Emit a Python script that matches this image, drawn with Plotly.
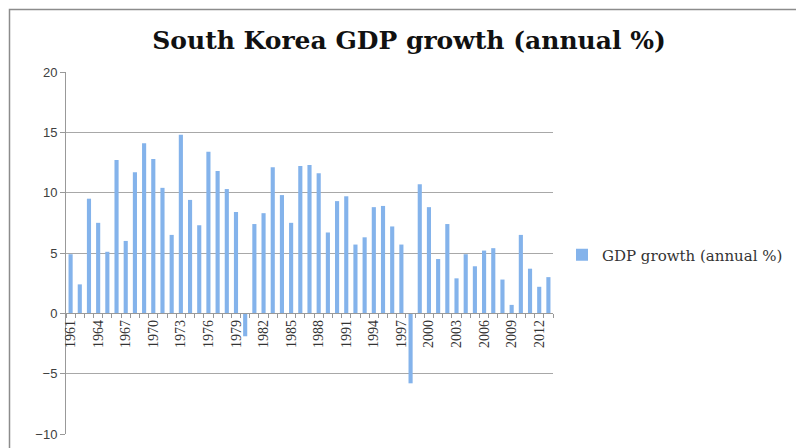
import plotly.graph_objects as go

years = list(range(1961, 2014))
gdp_growth = [4.9, 2.4, 9.5, 7.5, 5.1, 12.7, 6.0, 11.7, 14.1, 12.8,
              10.4, 6.5, 14.8, 9.4, 7.3, 13.4, 11.8, 10.3, 8.4, -1.9,
              7.4, 8.3, 12.1, 9.8, 7.5, 12.2, 12.3, 11.6, 6.7, 9.3,
              9.7, 5.7, 6.3, 8.8, 8.9, 7.2, 5.7, -5.8, 10.7, 8.8,
              4.5, 7.4, 2.9, 4.9, 3.9, 5.2, 5.4, 2.8, 0.7, 6.5,
              3.7, 2.2, 3.0]
y_ticks = [-10, -5, 0, 5, 10, 15, 20]
x_tick_years = list(range(1961, 2014, 3))

# the page body adds an 8px offset; figure coordinates = screen - 8
OFF = 8
W, H = 804, 448
L, T = 66 - OFF, 72 - OFF
R = W - (553 - OFF)
B = H - (434 - OFF)
pw, ph = W - L - R, H - T - B

fig = go.Figure()
fig.add_trace(go.Bar(
    x=years, y=gdp_growth, name="GDP growth (annual %)",
    marker=dict(color="#84b3eb", line=dict(width=0)),
    width=0.45,
))

fig.update_layout(
    width=W, height=H,
    margin=dict(l=L, r=R, t=T, b=B, autoexpand=False),
    paper_bgcolor="white", plot_bgcolor="white",
    title=dict(text="<b>South Korea GDP growth (annual %)</b>",
               font=dict(family="DejaVu Serif", size=25, color="#111"),
               x=(409 - OFF) / W, xref="container", xanchor="center",
               y=1 - (40 - OFF) / H, yref="container", yanchor="middle"),
    showlegend=True,
    legend=dict(x=(562 - OFF - L) / pw, y=(H - B - (255 - OFF)) / ph,
                xanchor="left", yanchor="middle",
                font=dict(family="DejaVu Serif", size=15, color="#333"),
                itemwidth=30, bgcolor="rgba(0,0,0,0)"),
    xaxis=dict(range=[1960.5, 2013.5], anchor="free", position=1 / 3,
               tickmode="array", tickvals=x_tick_years,
               ticktext=[str(v) for v in x_tick_years],
               tickangle=-90, ticks="", showgrid=False,
               showline=True, linecolor="#999", linewidth=1,
               tickfont=dict(family="Liberation Serif", size=14, color="#333"),
               minor=dict(ticks="outside", tick0=1960.5, dtick=1, ticklen=4,
                          tickcolor="#999", showgrid=False),
               zeroline=False),
    yaxis=dict(range=[-10, 20], tickvals=y_ticks, showgrid=True,
               gridcolor="#a8a8a8", gridwidth=1, zeroline=False,
               showline=True, linecolor="#999", linewidth=1,
               ticks="outside", ticklen=5, tickcolor="#999",
               tickfont=dict(family="Liberation Sans", size=13, color="#404040")),
    shapes=[dict(type="rect", xref="paper", yref="paper",
                 x0=(9.5 - OFF - L) / pw, x1=(W + 20 - L) / pw,
                 y0=(H - B - (H + 20)) / ph, y1=(H - B - (9.5 - OFF)) / ph,
                 line=dict(color="#8c8c8c", width=1.5), fillcolor="rgba(0,0,0,0)",
                 layer="below")],
)

fig.write_html("out.html")
